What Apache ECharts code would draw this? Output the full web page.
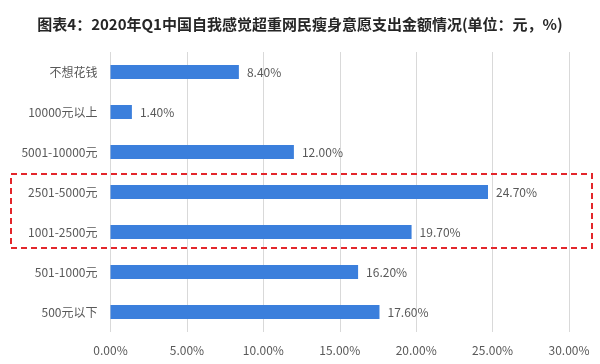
<!DOCTYPE html>
<html>
<head>
<meta charset="utf-8">
<script src="https://cdn.jsdelivr.net/npm/echarts@6/dist/echarts.min.js"></script>
<style>html,body{margin:0;padding:0;background:#fff;}#c{width:600px;height:364px;}</style>
</head>
<body>
<div id="c"></div>
<script>
const titleText = '图表4：2020年Q1中国自我感觉超重网民瘦身意愿支出金额情况(单位：元，%)';
const categories = ['不想花钱', '10000元以上', '5001-10000元', '2501-5000元', '1001-2500元', '501-1000元', '500元以下'];
const values = [8.40, 1.40, 12.00, 24.70, 19.70, 16.20, 17.60];
const xTicks = [0, 5, 10, 15, 20, 25, 30];
const highlighted = ['2501-5000元', '1001-2500元'];

const chart = echarts.init(document.getElementById('c'));
const font = '"Noto Sans CJK SC", "Noto Sans", sans-serif';
chart.setOption({
  backgroundColor: '#fff',
  animation: false,
  title: {
    text: titleText,
    left: 'center',
    top: 12,
    textStyle: { fontFamily: font, fontSize: 15, fontWeight: 'bold', color: '#262626' }
  },
  grid: { left: 110.5, right: 31, top: 52, bottom: 32 },
  xAxis: {
    type: 'value',
    min: xTicks[0],
    max: xTicks[xTicks.length - 1],
    interval: 5,
    axisLine: { show: false },
    axisTick: { show: false },
    splitLine: { lineStyle: { color: '#d9d9d9', width: 1 } },
    axisLabel: {
      color: '#595959', fontFamily: font, fontSize: 12, margin: 12,
      formatter: v => v.toFixed(2) + '%'
    }
  },
  yAxis: {
    type: 'category',
    data: categories,
    inverse: true,
    axisLine: { show: false },
    axisTick: { show: false },
    axisLabel: { color: '#595959', fontFamily: font, fontSize: 12, margin: 13 }
  },
  series: [{
    type: 'bar',
    data: values,
    barWidth: 14,
    itemStyle: { color: '#3b7fdc' },
    label: {
      show: true, position: 'right', distance: 8,
      color: '#595959', fontFamily: font, fontSize: 12,
      formatter: p => p.value.toFixed(2) + '%'
    }
  }]
});

const yTop = chart.convertToPixel({ yAxisIndex: 0 }, highlighted[0]);
const yBot = chart.convertToPixel({ yAxisIndex: 0 }, highlighted[1]);
chart.setOption({
  graphic: [{
    type: 'rect',
    shape: { x: 11, y: yTop - 18, width: 581, height: (yBot + 16) - (yTop - 18) },
    style: { fill: 'none', stroke: '#e3262b', lineWidth: 2, lineDash: [6, 4] },
    z: 10
  }]
});
</script>
</body>
</html>
